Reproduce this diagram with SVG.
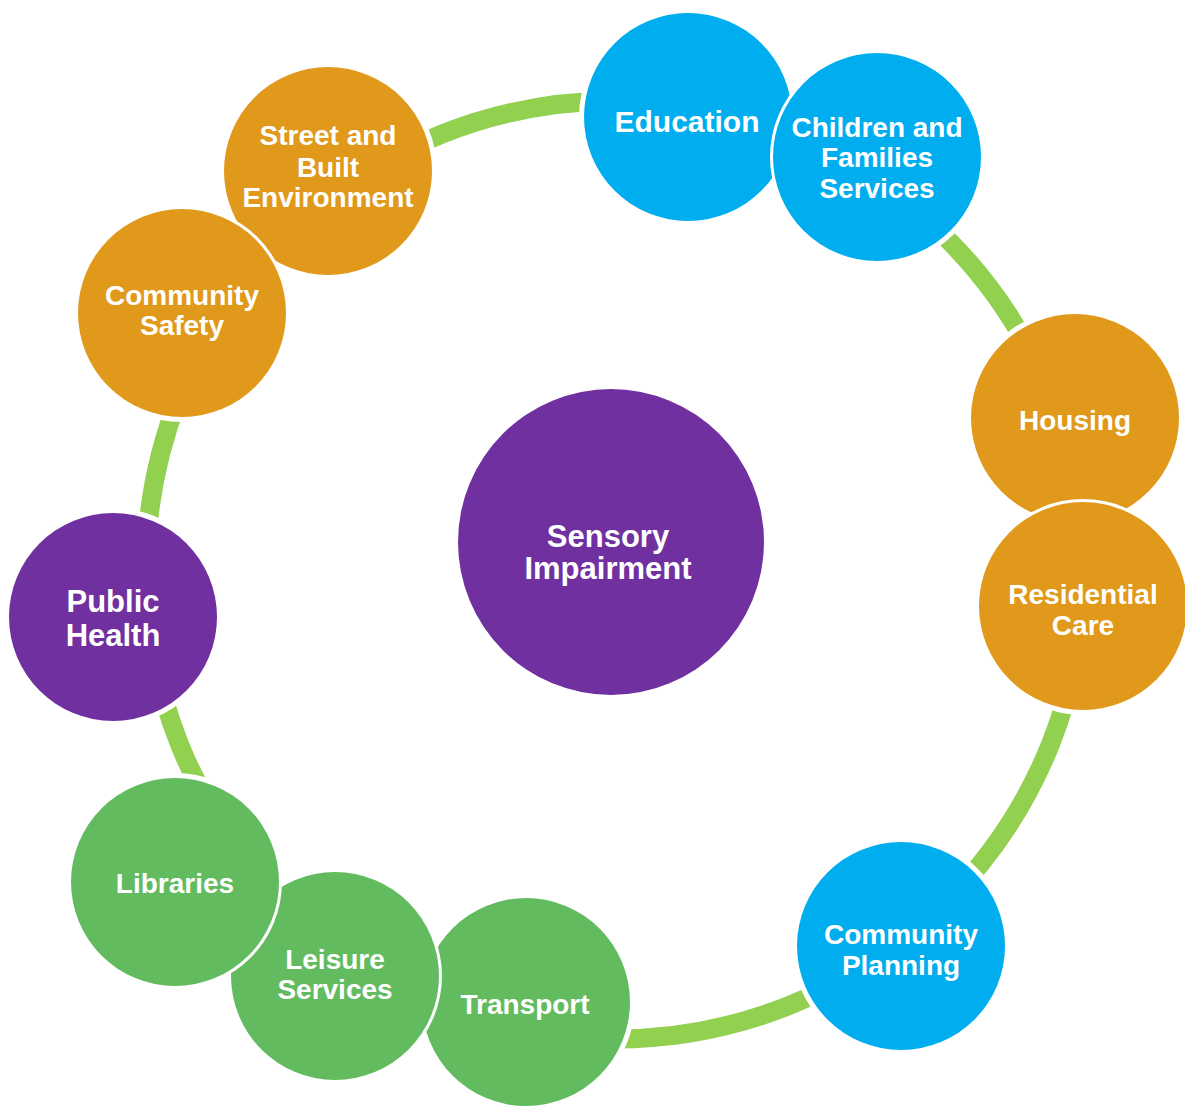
<svg xmlns="http://www.w3.org/2000/svg" width="1185" height="1108" viewBox="0 0 1185 1108">
<style>
.lbl{font-family:"Liberation Sans",Arial,sans-serif;font-weight:bold;font-size:28px;fill:#fff;text-anchor:middle}
.gap{fill:#fff}
.ring{fill:#fff}
.blue{fill:#00AEEF}.orange{fill:#E0991A}.purple{fill:#7030A0}.green{fill:#63BB60}
</style>
<rect width="1185" height="1108" fill="#fff"/>
<g id="connectors">
<circle cx="615" cy="570" r="469" fill="none" stroke="#92D050" stroke-width="19"/>
</g>
<g id="gaps">
<circle class="gap" cx="688" cy="117" r="109"/>
<circle class="gap" cx="877" cy="157" r="109"/>
<circle class="gap" cx="1075" cy="418" r="109"/>
<circle class="gap" cx="1083" cy="606" r="109"/>
<circle class="gap" cx="901" cy="946" r="109"/>
<circle class="gap" cx="526" cy="1002" r="109"/>
<circle class="gap" cx="335" cy="976" r="109"/>
<circle class="gap" cx="175" cy="882" r="109"/>
<circle class="gap" cx="113" cy="617" r="109"/>
<circle class="gap" cx="182" cy="313" r="109"/>
<circle class="gap" cx="328" cy="171" r="109"/>
</g>
<g id="sensory-impairment">
<circle class="purple" cx="611" cy="542" r="153"/>
<text class="lbl" style="font-size:31px" x="608" y="547">Sensory</text>
<text class="lbl" style="font-size:31px" x="608" y="579">Impairment</text>
</g>
<g id="education">
<circle class="ring" cx="688" cy="117" r="107"/>
<circle class="blue" cx="688" cy="117" r="104"/>
<text class="lbl" style="font-size:30px" x="687" y="132">Education</text>
</g>
<g id="children-families">
<circle class="ring" cx="877" cy="157" r="107"/>
<circle class="blue" cx="877" cy="157" r="104"/>
<text class="lbl" x="877" y="137">Children and</text>
<text class="lbl" x="877" y="167">Families</text>
<text class="lbl" x="877" y="198">Services</text>
</g>
<g id="housing">
<circle class="ring" cx="1075" cy="418" r="107"/>
<circle class="orange" cx="1075" cy="418" r="104"/>
<text class="lbl" x="1075" y="430">Housing</text>
</g>
<g id="residential-care">
<circle class="ring" cx="1083" cy="606" r="107"/>
<circle class="orange" cx="1083" cy="606" r="104"/>
<text class="lbl" x="1083" y="604">Residential</text>
<text class="lbl" x="1083" y="635">Care</text>
</g>
<g id="community-planning">
<circle class="ring" cx="901" cy="946" r="107"/>
<circle class="blue" cx="901" cy="946" r="104"/>
<text class="lbl" x="901" y="944">Community</text>
<text class="lbl" x="901" y="975">Planning</text>
</g>
<g id="transport">
<circle class="ring" cx="526" cy="1002" r="107"/>
<circle class="green" cx="526" cy="1002" r="104"/>
<text class="lbl" x="525" y="1014">Transport</text>
</g>
<g id="leisure-services">
<circle class="ring" cx="335" cy="976" r="107"/>
<circle class="green" cx="335" cy="976" r="104"/>
<text class="lbl" x="335" y="969">Leisure</text>
<text class="lbl" x="335" y="999">Services</text>
</g>
<g id="libraries">
<circle class="ring" cx="175" cy="882" r="107"/>
<circle class="green" cx="175" cy="882" r="104"/>
<text class="lbl" x="175" y="893">Libraries</text>
</g>
<g id="public-health">
<circle class="ring" cx="113" cy="617" r="107"/>
<circle class="purple" cx="113" cy="617" r="104"/>
<text class="lbl" style="font-size:31px" x="113" y="612">Public</text>
<text class="lbl" style="font-size:31px" x="113" y="646">Health</text>
</g>
<g id="street-built-environment">
<circle class="ring" cx="328" cy="171" r="107"/>
<circle class="orange" cx="328" cy="171" r="104"/>
<text class="lbl" x="328" y="145">Street and</text>
<text class="lbl" x="328" y="177">Built</text>
<text class="lbl" x="328" y="207">Environment</text>
</g>
<g id="community-safety">
<circle class="ring" cx="182" cy="313" r="107"/>
<circle class="orange" cx="182" cy="313" r="104"/>
<text class="lbl" x="182" y="305">Community</text>
<text class="lbl" x="182" y="335">Safety</text>
</g>
</svg>
